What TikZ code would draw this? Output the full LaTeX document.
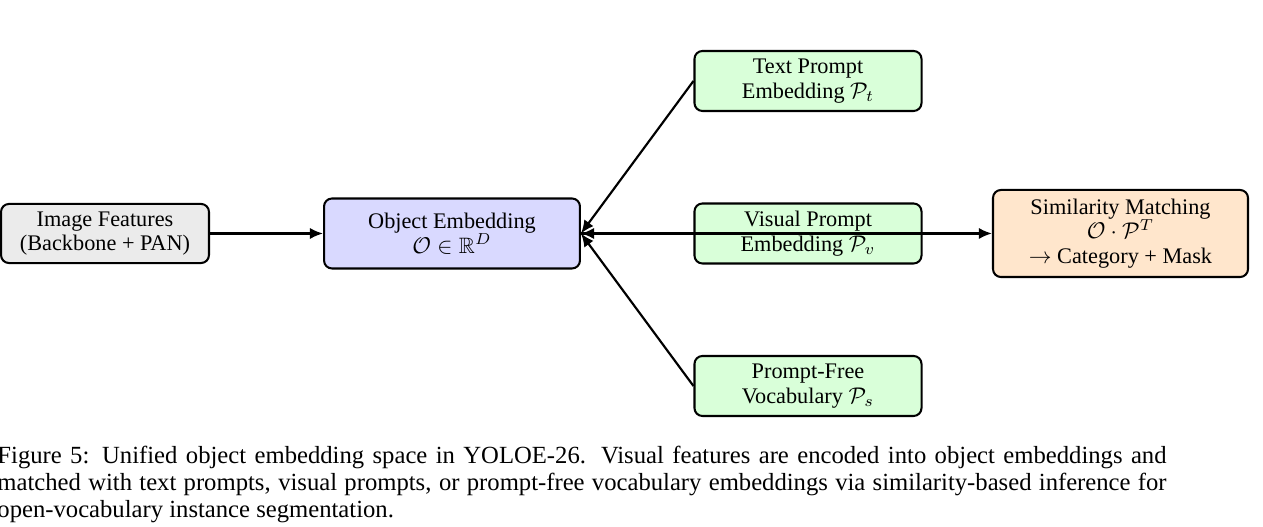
\documentclass[tikz,border=0pt]{standalone}
\usepackage{amssymb}
\usepackage{fontspec}
\setmainfont{Liberation Serif}
\usetikzlibrary{arrows.meta}
\definecolor{imgfill}{RGB}{235,235,235}
\definecolor{objfill}{RGB}{217,217,255}
\definecolor{prfill}{RGB}{217,255,217}
\definecolor{simfill}{RGB}{255,230,204}
\tikzset{
  box/.style={draw=black, line width=0.9pt, rounded corners=3.5pt, align=center, font=\fontsize{9.8pt}{10.9pt}\selectfont, inner sep=2pt},
  arr/.style={line width=0.95pt, -{Latex[length=5.8pt,width=5pt]}},
}
\begin{document}
\begin{tikzpicture}[x=0.44pt,y=-0.44pt]
\useasboundingbox (0,0) rectangle (1263,527);
\node[box, fill=imgfill, minimum width=91.5pt, minimum height=26pt] (img) at (105,233.5) {Image Features\\(Backbone + PAN)};
\node[box, fill=objfill, minimum width=112.6pt, minimum height=30.8pt] (obj) at (452,233.5) {Object Embedding\\$\mathcal{O}\in\mathbb{R}^D$};
\node[box, fill=prfill, minimum width=99.9pt, minimum height=26.4pt] (txt) at (808,81) {Text Prompt\\Embedding $\mathcal{P}_t$};
\node[box, fill=prfill, minimum width=99.9pt, minimum height=26.4pt] (vis) at (808,233.5) {Visual Prompt\\Embedding $\mathcal{P}_v$};
\node[box, fill=prfill, minimum width=99.9pt, minimum height=26.4pt] (pf) at (808,386) {Prompt-Free\\Vocabulary $\mathcal{P}_s$};
\node[box, fill=simfill, minimum width=112.2pt, minimum height=38.3pt] (sim) at (1120.5,233.5) {Similarity Matching\\$\mathcal{O}\cdot\mathcal{P}^T$\\$\rightarrow$ Category + Mask};
\draw[arr] (img) -- (obj);
\draw[arr] (txt.west) -- (obj.east);
\draw[arr] (vis.west) -- (obj.east);
\draw[arr] (pf.west) -- (obj.east);
\draw[arr] (obj.east) -- (sim.west);
\node[anchor=north west, inner sep=0pt, text width=514.4pt, font=\fontsize{10.85pt}{11.9pt}\selectfont, align=justify] (cap) at (-3,444)
{\strut Figure 5: Unified object embedding space in YOLOE-26. Visual features are encoded into object embeddings and\linebreak matched with text prompts, visual prompts, or prompt-free vocabulary embeddings via similarity-based inference for\linebreak open-vocabulary instance segmentation.};
\end{tikzpicture}
\end{document}
